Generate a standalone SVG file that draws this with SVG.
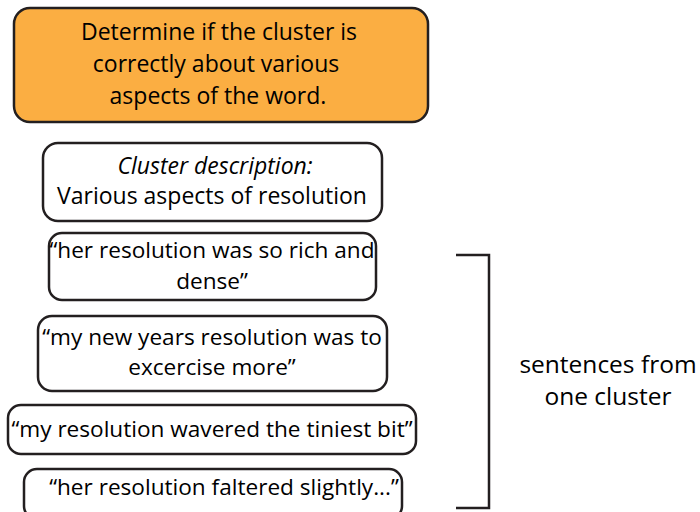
<svg xmlns="http://www.w3.org/2000/svg" width="700" height="512" viewBox="0 0 700 512">
<style>
.box{fill:#fff;stroke:#231f20;stroke-width:2.5}
.orange{fill:#fbae42;stroke:#231f20;stroke-width:2.5}
text{font-family:"Open Sans","Liberation Sans",Arial,sans-serif;font-size:23px;fill:#000;text-anchor:middle}
.it{font-style:italic}
.s{font-size:22.6px}
.lbl{font-size:24.5px}
.conn{fill:none;stroke:#231f20;stroke-width:2.5}
</style>
<rect width="700" height="512" fill="#fff"/>
<g id="task">
<rect class="orange" x="14" y="8" width="414" height="114" rx="16"/>
<text x="219" y="40">Determine if the cluster is</text>
<text x="216" y="72">correctly about various</text>
<text x="218" y="104">aspects of the word.</text>
</g>
<g id="description">
<rect class="box" x="43" y="143" width="339" height="78" rx="15"/>
<text class="it" x="215" y="174">Cluster description:</text>
<text x="212" y="204">Various aspects of resolution</text>
</g>
<g id="sentence1">
<rect class="box" x="49" y="233" width="327" height="67" rx="13"/>
<text class="s" x="212" y="258">“her resolution was so rich and</text>
<text class="s" x="212" y="289">dense”</text>
</g>
<g id="sentence2">
<rect class="box" x="38" y="316" width="349" height="75" rx="14"/>
<text class="s" x="212" y="345">“my new years resolution was to</text>
<text class="s" x="212" y="375">excercise more”</text>
</g>
<g id="sentence3">
<rect class="box" x="8" y="405" width="408" height="49" rx="13"/>
<text class="s" x="212" y="437">“my resolution wavered the tiniest bit”</text>
</g>
<g id="sentence4">
<rect class="box" x="24" y="469" width="378" height="50" rx="13"/>
<text class="s" x="224" y="495">“her resolution faltered slightly...”</text>
</g>
<g id="connectors">
<path class="conn" d="M456,255 H489 V508 H456"/>
</g>
<g id="label">
<text class="lbl" x="608" y="373">sentences from</text>
<text class="lbl" x="608" y="405">one cluster</text>
</g>
</svg>
